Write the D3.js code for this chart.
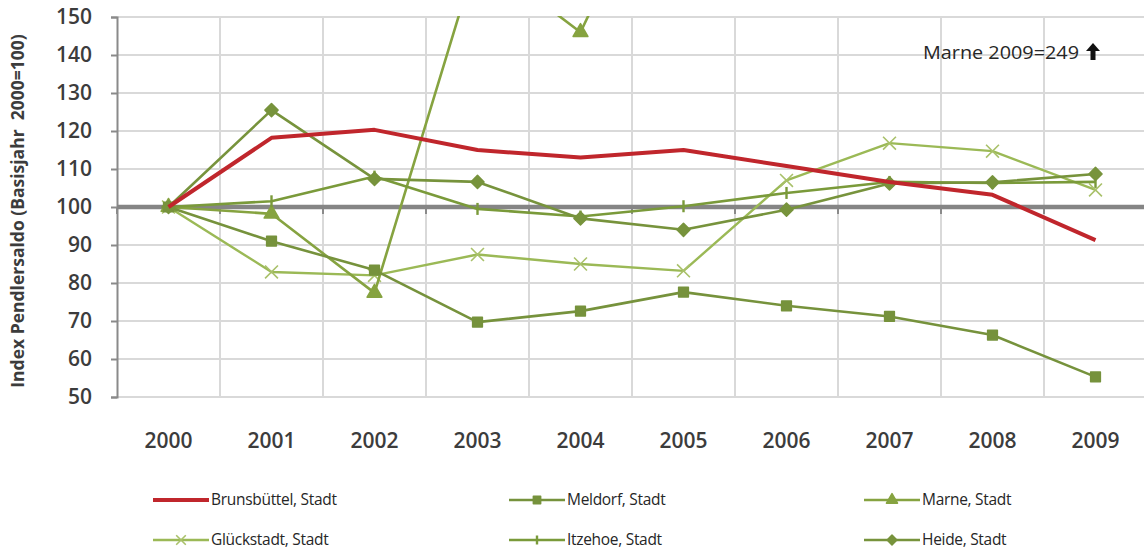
<!DOCTYPE html>
<html>
<head>
<meta charset="utf-8">
<script src="https://cdn.jsdelivr.net/npm/d3@7"></script>
<style>
  html, body { margin: 0; padding: 0; background: #fff; }
  svg { display: block; }
  text { font-family: "Open Sans", "Liberation Sans", sans-serif; white-space: pre; }
</style>
</head>
<body>
<svg id="chart" width="1144" height="554"></svg>
<script>
// Pendlersaldo index per town, base year 2000 = 100
const years = ["2000","2001","2002","2003","2004","2005","2006","2007","2008","2009"];
const brunsbuettel = [100, 118.2, 120.3, 115, 113, 115, 110.8, 106.6, 103.2, 91.3];
const meldorf      = [100, 91, 83.4, 69.7, 72.6, 77.6, 74, 71.2, 66.3, 55.3];
const marne        = [100, 98.2, 77.4, 166.5, 146, 203, 218, 236, 229, 249];
const glueckstadt  = [100, 82.9, 82, 87.5, 85, 83.2, 107, 116.8, 114.7, 104.5];
const itzehoe      = [100, 101.5, 108, 99.5, 97.5, 100.2, 103.7, 106.6, 106.3, 106.6];
const heide        = [100, 125.5, 107.4, 106.6, 97, 94, 99.3, 106.2, 106.5, 108.7];
const yTicks = [50, 60, 70, 80, 90, 100, 110, 120, 130, 140, 150];

const seriesNames = ["Brunsbüttel, Stadt","Meldorf, Stadt","Marne, Stadt","Glückstadt, Stadt","Itzehoe, Stadt","Heide, Stadt"];
const seriesValues = [brunsbuettel, meldorf, marne, glueckstadt, itzehoe, heide];
const seriesColors = ["#c0262c", "#76923c", "#86a340", "#9bb956", "#7a9a3a", "#77933c"];
const seriesWidths = [4, 2.6, 2.6, 2.4, 2.6, 2.6];
const seriesMarkers = ["none", "square", "triangle", "cross", "plus", "diamond"];

const svg = d3.select("#chart");
const plot = { left: 117, right: 1147, top: 17, bottom: 397 };

const x = d3.scaleBand().domain(years).range([plot.left, plot.right]).padding(0);
const xc = d => x(d) + x.bandwidth() / 2;
const y = d3.scaleLinear().domain([50, 150]).range([plot.bottom, plot.top]);

svg.append("defs").append("clipPath").attr("id", "plotClip")
  .append("rect").attr("x", plot.left).attr("y", plot.top - 1)
  .attr("width", plot.right - plot.left).attr("height", plot.bottom - plot.top + 2);

// horizontal gridlines
svg.append("g").selectAll("line").data(yTicks.filter(v => v !== 100)).join("line")
  .attr("x1", plot.left).attr("x2", plot.right)
  .attr("y1", d => y(d)).attr("y2", d => y(d))
  .attr("stroke", "#d9d9d9").attr("stroke-width", 2);

// vertical gridlines between categories
svg.append("g").selectAll("line").data(years.slice(1)).join("line")
  .attr("x1", d => x(d)).attr("x2", d => x(d))
  .attr("y1", plot.top).attr("y2", plot.bottom)
  .attr("stroke", "#d9d9d9").attr("stroke-width", 2);

// value axis on the left
const yAxis = d3.axisLeft(y).tickValues(yTicks).tickSize(6).tickPadding(19);
const gy = svg.append("g").attr("transform", `translate(${plot.left},0)`).call(yAxis);
gy.select(".domain").attr("stroke", "#8a8a8a").attr("stroke-width", 2);
gy.selectAll(".tick line").attr("stroke", "#8a8a8a").attr("stroke-width", 2);
gy.selectAll(".tick text").attr("fill", "#3c3c3c").attr("font-size", 21).attr("font-weight", 600);

// category axis crossing at 100
const gx = svg.append("g").attr("transform", `translate(0,${y(100)})`);
gx.selectAll("line.bound").data(years).join("line").attr("class", "bound")
  .attr("x1", d => x(d)).attr("x2", d => x(d)).attr("y1", 0).attr("y2", 7)
  .attr("stroke", "#8a8a8a").attr("stroke-width", 2);
gx.append("line").attr("x1", plot.left).attr("x2", plot.right)
  .attr("y1", 0).attr("y2", 0).attr("stroke", "#858585").attr("stroke-width", 4.5);

// category labels below the plot
svg.append("g").selectAll("text").data(years).join("text")
  .attr("x", d => xc(d)).attr("y", 448)
  .attr("text-anchor", "middle").attr("font-size", 21).attr("font-weight", 600)
  .attr("fill", "#3c3c3c").text(d => d);

// axis title
svg.append("text")
  .attr("transform", `translate(24,${(plot.top + plot.bottom) / 2 + 4}) rotate(-90)`)
  .attr("text-anchor", "middle").attr("font-size", 17.5).attr("font-weight", 700)
  .attr("fill", "#3c3c3c").text("Index Pendlersaldo (Basisjahr  2000=100)");

const symbolFor = {
  square: d3.symbol().type(d3.symbolSquare),
  triangle: d3.symbol().type(d3.symbolTriangle),
  diamond: d3.symbol().type(d3.symbolDiamond2),
  cross: d3.symbol().type(d3.symbolTimes),
  plus: d3.symbol().type(d3.symbolCross)
};
const symbolSize = { square: 95, triangle: 95, diamond: 110, cross: 110, plus: 70 };

function drawMarker(g, kind, color, cx, cy, k) {
  if (kind === "none") return;
  if (kind === "plus") {
    g.append("line").attr("x1", cx).attr("x2", cx).attr("y1", cy - 6 * k).attr("y2", cy + 6 * k)
      .attr("stroke", color).attr("stroke-width", 2.4);
    return;
  }
  const p = g.append("path").attr("d", symbolFor[kind].size(symbolSize[kind] * k * k)())
    .attr("transform", `translate(${cx},${cy})`);
  if (kind === "cross") {
    p.attr("fill", "none").attr("stroke", "#a9c16a").attr("stroke-width", 1.6);
  } else {
    p.attr("fill", color).attr("stroke", color).attr("stroke-width", 1.5)
      .attr("stroke-linejoin", "round");
  }
}

const plotG = svg.append("g").attr("clip-path", "url(#plotClip)");
const line = d3.line().x((d, i) => xc(years[i])).y(d => y(d));

// draw green series first, red Brunsbüttel on top
const order = [3, 2, 1, 4, 5, 0];
order.forEach(si => {
  const g = plotG.append("g");
  g.append("path").datum(seriesValues[si]).attr("d", line)
    .attr("fill", "none").attr("stroke", seriesColors[si])
    .attr("stroke-width", seriesWidths[si]).attr("stroke-linejoin", "round");
  seriesValues[si].forEach((v, i) => drawMarker(g, seriesMarkers[si], seriesColors[si], xc(years[i]), y(v), 1));
});

// annotation for the off-scale Marne value
svg.append("text").attr("x", 923).attr("y", 59)
  .attr("font-size", 19).attr("fill", "#262626")
  .attr("textLength", 156).attr("lengthAdjust", "spacingAndGlyphs")
  .text("Marne " + years[9] + "=" + marne[9]);
svg.append("path")
  .attr("d", "M1093,43 L1100,51 L1095.5,51 L1095.5,60 L1090.5,60 L1090.5,51 L1086,51 Z")
  .attr("fill", "#111");

// legend
const legendPos = [[153, 500], [509, 500], [864, 500], [153, 540], [509, 540], [864, 540]];
seriesNames.forEach((name, si) => {
  const [lx, ly] = legendPos[si];
  const g = svg.append("g");
  g.append("line").attr("x1", lx).attr("x2", lx + 56).attr("y1", ly).attr("y2", ly)
    .attr("stroke", seriesColors[si]).attr("stroke-width", si === 0 ? 4 : 2.6);
  drawMarker(g, seriesMarkers[si], seriesColors[si], lx + 28, ly, 0.75);
  g.append("text").attr("x", lx + 58).attr("y", ly + 5)
    .attr("font-size", 15.5).attr("fill", "#262626").attr("letter-spacing", -0.3).text(name);
});
</script>
</body>
</html>
